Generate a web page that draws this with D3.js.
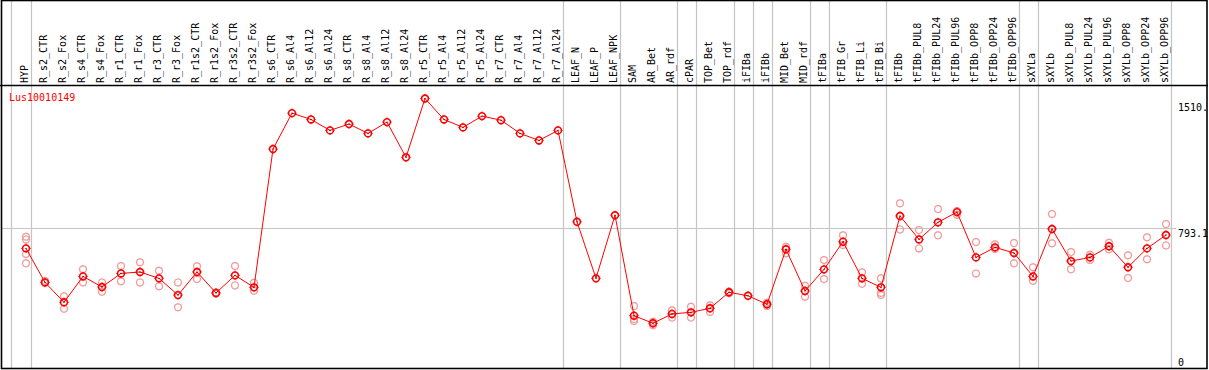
<!DOCTYPE html>
<html>
<head>
<meta charset="utf-8">
<script src="https://cdn.jsdelivr.net/npm/d3@7"></script>
<style>
  html, body { margin: 0; padding: 0; background: #fff; }
  svg { display: block; }
  text { font-family: "DejaVu Sans Mono", monospace; font-size: 10px; }
</style>
</head>
<body>
<script>
// Expression profile of one gene across tissues / treatments.
var categories = [
  'HYP', 'R_s2_CTR', 'R_s2_Fox', 'R_s4_CTR', 'R_s4_Fox', 'R_r1_CTR', 'R_r1_Fox',
  'R_r3_CTR', 'R_r3_Fox', 'R_r1s2_CTR', 'R_r1s2_Fox', 'R_r3s2_CTR', 'R_r3s2_Fox',
  'R_s6_CTR', 'R_s6_Al4', 'R_s6_Al12', 'R_s6_Al24', 'R_s8_CTR', 'R_s8_Al4',
  'R_s8_Al12', 'R_s8_Al24', 'R_r5_CTR', 'R_r5_Al4', 'R_r5_Al12', 'R_r5_Al24',
  'R_r7_CTR', 'R_r7_Al4', 'R_r7_Al12', 'R_r7_Al24', 'LEAF_N', 'LEAF_P', 'LEAF_NPK',
  'SAM', 'AR_Bet', 'AR_rdf', 'cPAR', 'TOP_Bet', 'TOP_rdf', 'iFIBa', 'iFIBb',
  'MID_Bet', 'MID_rdf', 'tFIBa', 'tFIB_Gr', 'tFIB_Li', 'tFIB_Bi', 'tFIBb',
  'tFIBb_PUL8', 'tFIBb_PUL24', 'tFIBb_PUL96', 'tFIBb_OPP8', 'tFIBb_OPP24', 'tFIBb_OPP96',
  'sXYLa', 'sXYLb', 'sXYLb_PUL8', 'sXYLb_PUL24', 'sXYLb_PUL96', 'sXYLb_OPP8',
  'sXYLb_OPP24', 'sXYLb_OPP96'
];

// group separators are drawn after these columns
var groupEnds = ['HYP', 'R_r7_Al24', 'LEAF_NPK', 'AR_rdf', 'cPAR', 'TOP_rdf', 'iFIBa',
  'iFIBb', 'MID_rdf', 'tFIBa', 'tFIB_Bi', 'tFIBb_OPP96', 'sXYLa', 'sXYLb_OPP96'];

var means = [
  679, 486, 373, 520, 460, 537, 545, 509, 414, 545, 426, 526, 458,
  1243, 1447, 1411, 1349, 1385, 1332, 1396, 1196, 1530, 1411, 1366, 1430,
  1407, 1332, 1292, 1349, 830, 509, 867,
  297, 254, 307, 316, 339, 430, 410, 362, 674, 437,
  560, 717, 509, 458, 863, 730, 827, 885, 628, 685, 653,
  520, 789, 607, 628, 691, 572, 679, 755
];

var replicates = [
  [745, 730, 647, 594], [494, 482], [407, 337], [560, 486], [486, 433],
  [579, 492], [600, 486], [552, 464], [486, 345], [577, 505], [428, 423],
  [579, 469], [484, 439],
  [], [], [], [], [], [], [], [], [], [], [], [], [], [], [], [],
  [], [], [],
  [352, 278, 267], [242, 263], [328, 286], [348, 286], [356, 318], [435, 424],
  [], [371, 352], [688, 651], [467, 405],
  [613, 505], [753, 698], [543, 478], [509, 426, 414], [935, 787],
  [783, 679], [902, 753], [891, 870], [715, 537], [702, 675], [709, 594],
  [572, 495], [874, 708], [658, 560], [643, 613], [711, 674], [640, 511],
  [742, 617], [817, 696]
];

var tickValues = [0, 793.1, 1510];
var tickLabels = ['0', '793.1', '1510.'];
var geneName = 'Lus10010149';

var W = 1209, H = 370;
var plotTop = 85, plotBottom = 368, right = 1207;

var svg = d3.select('body').append('svg').attr('width', W).attr('height', H);

var x = d3.scalePoint().domain(categories).range([26, 1166]);
var y = d3.scaleLinear().domain([0, 1606.7]).range([plotBottom, plotTop]);

var grid = svg.append('g').attr('class', 'grid');
// vertical group separators (full height, header included)
var sepX = [x(categories[0]) - 15.3].concat(groupEnds.map(function (c) { return x(c) + 4.7; }));
grid.selectAll('line.vsep').data(sepX).enter().append('line')
  .attr('class', 'vsep')
  .attr('x1', function (d) { return Math.round(d) + 0.5; })
  .attr('x2', function (d) { return Math.round(d) + 0.5; })
  .attr('y1', 0).attr('y2', plotBottom)
  .attr('stroke', '#c4c4c4').attr('stroke-width', 1.2);

// horizontal reference line at the mid tick only
grid.append('line')
  .attr('x1', 2).attr('x2', 1176)
  .attr('y1', Math.round(y(tickValues[1])) + 0.5).attr('y2', Math.round(y(tickValues[1])) + 0.5)
  .attr('stroke', '#c4c4c4').attr('stroke-width', 1.2);

// rotated column labels
svg.append('g').selectAll('text.col').data(categories).enter().append('text')
  .attr('class', 'col')
  .attr('transform', function (c) { return 'translate(' + (x(c) + 1.8) + ',83) rotate(-90)'; })
  .attr('fill', '#000')
  .text(function (c) { return c; });

// right-hand value labels
svg.append('g').selectAll('text.tick').data(tickValues).enter().append('text')
  .attr('class', 'tick')
  .attr('x', 1178)
  .attr('y', function (v) { return Math.min(y(v) + 8.5, 366); })
  .attr('fill', '#000')
  .text(function (v, i) { return tickLabels[i]; });

svg.append('text')
  .attr('x', 9).attr('y', 101)
  .attr('fill', '#ff0000')
  .text(geneName);

function marker(g, cx, cy, color, sw, tick) {
  var r = 3.4;
  g.append('circle').attr('cx', cx).attr('cy', cy).attr('r', r)
    .attr('fill', 'none').attr('stroke', color).attr('stroke-width', sw);
  if (!tick) return;
  [[0, -1], [0, 1], [-1, 0], [1, 0]].forEach(function (d) {
    g.append('line')
      .attr('x1', cx + d[0] * r).attr('y1', cy + d[1] * r)
      .attr('x2', cx + d[0] * (r + tick)).attr('y2', cy + d[1] * (r + tick))
      .attr('stroke', color).attr('stroke-width', 1);
  });
}

// replicate points
var reps = svg.append('g').attr('class', 'reps');
categories.forEach(function (c, i) {
  replicates[i].forEach(function (v) { marker(reps, x(c), y(v), '#f09a9a', 1.2, 0.8); });
});

// mean line + markers
var line = d3.line()
  .x(function (d, i) { return x(categories[i]); })
  .y(function (d) { return y(d); });
svg.append('path').datum(means)
  .attr('d', line)
  .attr('fill', 'none').attr('stroke', '#ff0000').attr('stroke-width', 1);

var meanG = svg.append('g').attr('class', 'means');
means.forEach(function (v, i) {
  marker(meanG, x(categories[i]), y(v), '#ff0000', 1.6, 1.3);
  meanG.append('circle').attr('cx', x(categories[i])).attr('cy', y(v)).attr('r', 0.7)
    .attr('fill', '#600');
});

// frame and header rule
svg.append('line').attr('x1', 0).attr('x2', right + 1).attr('y1', 85.5).attr('y2', 85.5)
  .attr('stroke', '#000').attr('stroke-width', 1.5);
svg.append('rect').attr('x', 1.5).attr('y', 0.5).attr('width', right - 1.5).attr('height', plotBottom)
  .attr('fill', 'none').attr('stroke', '#000').attr('stroke-width', 1.6);
</script>
</body>
</html>
